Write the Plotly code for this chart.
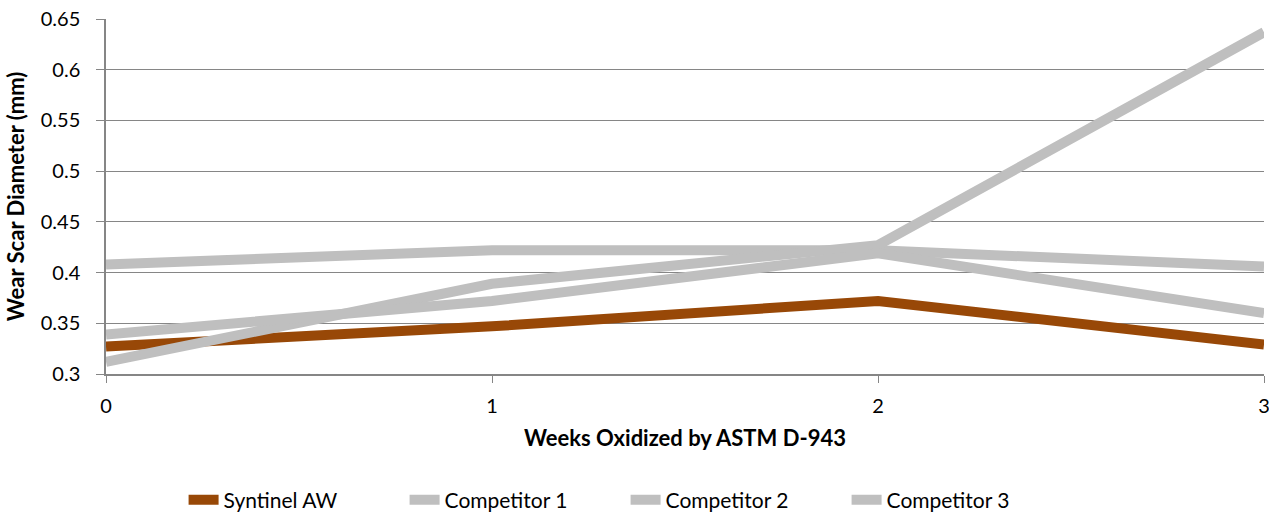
import plotly.graph_objects as go

weeks = [0, 1, 2, 3]
syntinel_aw = [0.327, 0.347, 0.372, 0.329]
competitor_1 = [0.408, 0.422, 0.422, 0.406]
competitor_2 = [0.312, 0.389, 0.427, 0.637]
competitor_3 = [0.339, 0.372, 0.419, 0.360]

y_ticks = [0.3, 0.35, 0.4, 0.45, 0.5, 0.55, 0.6, 0.65]
y_tick_labels = ["0.3", "0.35", "0.4", "0.45", "0.5", "0.55", "0.6", "0.65"]
x_tick_labels = ["0", "1", "2", "3"]

series = [
    ("Syntinel AW", syntinel_aw, "#984807"),
    ("Competitor 1", competitor_1, "#BFBFBF"),
    ("Competitor 2", competitor_2, "#BFBFBF"),
    ("Competitor 3", competitor_3, "#BFBFBF"),
]

fig = go.Figure()
for name, vals, col in series:
    fig.add_trace(go.Scatter(x=weeks, y=vals, name=name, mode="lines",
                             line=dict(color=col, width=10)))

font_family = "Lato, Open Sans, sans-serif"
fig.update_layout(
    width=1269, height=514,
    margin=dict(l=106, r=5, t=19, b=140, autoexpand=False),
    paper_bgcolor="white", plot_bgcolor="white",
    font=dict(family=font_family, size=20, color="#000000"),
    showlegend=True,
    legend=dict(orientation="h", x=0.067, xanchor="left", y=-0.355, yanchor="middle",
                font=dict(size=21), traceorder="normal",
                entrywidth=176, entrywidthmode="pixels"),
    xaxis=dict(range=[0, 3], tickvals=weeks, ticktext=x_tick_labels, automargin=False,
               showgrid=False, zeroline=False, showline=True, linecolor="#868686",
               linewidth=1.5, ticks="outside", tickcolor="#868686", ticklen=7,
               ticklabelstandoff=6, ticklabeloverflow="allow",
               title=dict(text="<b>Weeks Oxidized by ASTM D-943</b>", font=dict(size=22), standoff=15),
               tickfont=dict(size=20)),
    yaxis=dict(range=[0.3, 0.65], tickvals=y_ticks, ticktext=y_tick_labels, automargin=False,
               showgrid=True, gridcolor="#868686", gridwidth=1.2, zeroline=False,
               showline=True, linecolor="#868686", linewidth=1.5,
               ticks="outside", tickcolor="#868686", ticklen=8,
               ticklabelstandoff=12, ticklabeloverflow="allow",
               title=dict(text="<b>Wear Scar Diameter (mm)</b>", font=dict(size=22), standoff=10),
               tickfont=dict(size=20)),
)

fig.write_html("out.html", config={"displayModeBar": False},
               post_script="document.body.style.margin='0';document.body.style.overflow='hidden';")
